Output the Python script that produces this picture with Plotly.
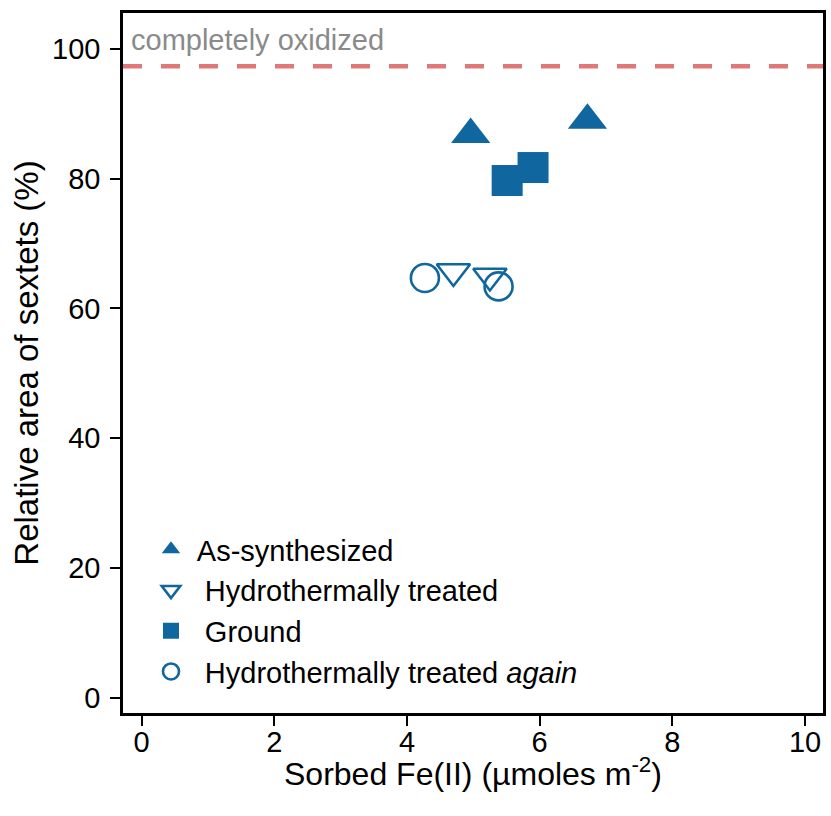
import plotly.graph_objects as go

# ---- data ----
as_synth_x = [4.96, 6.72]
as_synth_y = [86.8, 89.0]
hydro_x = [4.70, 5.25]
hydro_y = [65.7, 65.0]
ground_x = [5.51, 5.90]
ground_y = [79.7, 81.7]
hydro_again_x = [4.27, 5.38]
hydro_again_y = [64.7, 63.4]
completely_oxidized = 97.3

x_ticks = [0, 2, 4, 6, 8, 10]
y_ticks = [0, 20, 40, 60, 80, 100]

blue = "#10669e"
FONT = "Liberation Sans, Arial, sans-serif"

fig = go.Figure()
fig.add_trace(go.Scatter(x=as_synth_x, y=as_synth_y, mode="markers", name="\u2009As-synthesized",
                         marker=dict(symbol="triangle-up", size=34, color=blue, line=dict(width=0))))
fig.add_trace(go.Scatter(x=hydro_x, y=hydro_y, mode="markers", name="\u2009\u00a0Hydrothermally treated",
                         marker=dict(symbol="triangle-down-open", size=29, color=blue, line=dict(width=2.6, color=blue))))
fig.add_trace(go.Scatter(x=ground_x, y=ground_y, mode="markers", name="\u2009\u00a0Ground",
                         marker=dict(symbol="square", size=31, color=blue, line=dict(width=0))))
fig.add_trace(go.Scatter(x=hydro_again_x, y=hydro_again_y, mode="markers",
                         name="\u2009\u00a0Hydrothermally treated <i>again</i>",
                         marker=dict(symbol="circle-open", size=28, color=blue, line=dict(width=2.6, color=blue))))

fig.add_hline(y=completely_oxidized, line=dict(color="#e07878", width=4.5, dash="19px,19px"), layer="below")
fig.add_annotation(x=0.009, xref="paper", y=101.4, yref="y", text="completely oxidized",
                   showarrow=False, xanchor="left", yanchor="middle",
                   font=dict(family=FONT, size=29, color="#8a8a8a"))
# x-axis title placed as an annotation for exact vertical placement
fig.add_annotation(x=0.5, xref="paper", y=-0.084, yref="paper", text="Sorbed Fe(II) (µmoles m<sup>-2</sup>)",
                   showarrow=False, xanchor="center", yanchor="middle",
                   font=dict(family=FONT, size=32, color="black"))

axis_common = dict(showline=True, linewidth=2.5, linecolor="black", mirror=True,
                   ticks="outside", ticklen=10, tickwidth=2, tickcolor="black",
                   showgrid=False, zeroline=False,
                   tickfont=dict(family=FONT, size=29, color="black"))

fig.update_layout(
    width=831, height=816, autosize=False,
    margin=dict(l=123, r=5, t=13, b=103),
    plot_bgcolor="white", paper_bgcolor="white",
    xaxis=dict(range=[-0.28, 10.27], tickvals=x_ticks, ticklabelstandoff=-9,
               **axis_common),
    yaxis=dict(range=[-2.3, 105.5], tickvals=y_ticks, ticklabelstandoff=4,
               title=dict(text="Relative area of sextets (%)", font=dict(family=FONT, size=33, color="black"), standoff=4),
               **axis_common),
    legend=dict(x=0.04, y=0.27, xanchor="left", yanchor="top", bgcolor="rgba(0,0,0,0)",
                font=dict(family=FONT, size=29, color="black"), itemwidth=30),
    showlegend=True,
)

fig.write_html("out.html")
